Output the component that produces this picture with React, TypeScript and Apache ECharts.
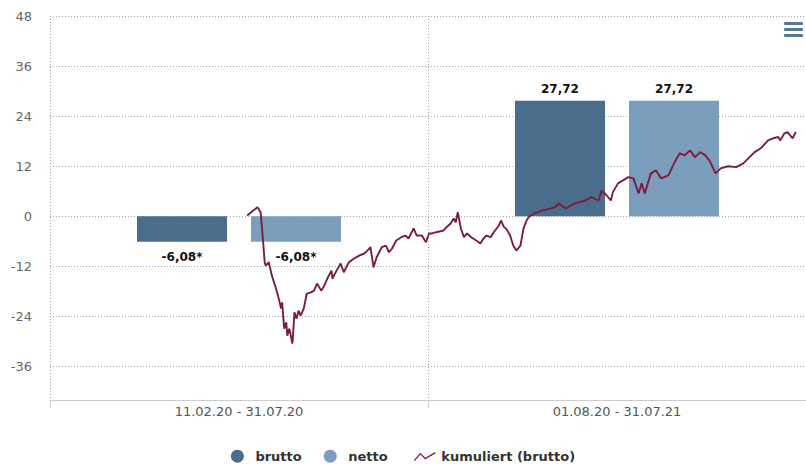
import React, { useEffect, useRef } from "react";
import * as echarts from "echarts";

// ---- data ----
const categories = ["11.02.20 - 31.07.20", "01.08.20 - 31.07.21"];
const bruttoValues = [-6.08, 27.72];
const nettoValues = [-6.08, 27.72];
const footnotes = ["*", ""];

const yMin = -44;
const yMax = 48;
const yStep = 12;

// cumulative (brutto) performance, days since line start date
const lineStartDate = "2020-02-11";
const axisStartOffsetDays = -192;
const axisEndOffsetDays = 544;
const lineDays = [
  0, 5, 10, 13, 15, 17, 18, 21, 24, 28, 30, 33, 34, 36, 38, 39, 41, 44, 46, 48,
  50, 52, 55, 58, 62, 65, 68, 72, 75, 78, 82, 83, 87, 91, 94, 99, 104, 109, 114,
  117, 120, 123, 126, 131, 135, 138, 141, 145, 150, 154, 157, 162, 165, 170, 174,
  177, 180, 184, 191, 194, 198, 201, 203, 205, 208, 211, 214, 218, 223, 227, 230,
  233, 237, 240, 245, 247, 250, 252, 256, 259, 262, 266, 269, 272, 274, 279, 288,
  300, 303, 310, 319, 329, 335, 342, 345, 350, 354, 356, 361, 371, 376, 381, 384,
  387, 393, 398, 403, 410, 417, 421, 426, 431, 436, 441, 446, 450, 456, 461, 468,
  476, 483, 489, 494, 500, 507, 512, 517, 519, 523, 526, 531, 534,
];
const lineValues = [
  0.2, 1.2, 2.2, 1.0, -4.6, -11.0, -11.8, -11.0, -14.2, -17.3, -19.0, -22.1,
  -20.6, -26.9, -25.4, -28.6, -26.9, -30.5, -23.0, -24.5, -22.6, -23.8, -22.1,
  -18.5, -18.2, -17.8, -16.1, -17.8, -16.6, -14.9, -13.0, -14.9, -13.0, -11.3,
  -13.4, -11.0, -10.1, -9.4, -8.9, -8.2, -7.4, -12.2, -9.8, -7.4, -7.0, -8.6,
  -7.7, -5.8, -5.0, -4.6, -5.3, -2.9, -4.6, -4.6, -6.2, -4.1, -4.1, -3.8, -3.4,
  -2.6, -1.7, -0.5, -1.4, 1.0, -2.9, -5.0, -4.1, -5.0, -5.8, -6.5, -5.3, -4.6,
  -5.0, -3.8, -2.2, -1.0, -2.6, -2.9, -4.6, -7.0, -8.2, -7.0, -2.9, -1.0, -0.2,
  0.7, 1.4, 2.2, 3.1, 1.9, 3.1, 3.8, 4.6, 3.8, 6.2, 5.0, 3.8, 5.8, 7.9, 9.4, 9.1,
  5.5, 7.9, 5.5, 10.3, 11.0, 9.1, 9.8, 13.4, 15.1, 14.6, 15.8, 14.2, 15.4, 14.6,
  13.4, 10.3, 11.5, 12.0, 11.8, 12.7, 14.2, 15.4, 16.3, 18.2, 18.7, 19.0, 18.2,
  19.9, 20.2, 18.7, 20.2,
];

const seriesNames = ["brutto", "netto", "kumuliert (brutto)"];

// ---- styles ----
const FONT = "DejaVu Sans";
const C_BRUTTO = "#4a6d8c";
const C_NETTO = "#7b9ebd";
const C_LINE = "#7a1d3e";
const C_GRID = "#a8a8a8";
const DAY = 86400000;

function fmt(v: number, note: string) {
  return v.toFixed(2).replace(".", ",") + note;
}

function barData(values: number[]) {
  return values.map((v, i) => ({
    value: v,
    label: {
      position: v < 0 ? "bottom" : "top",
      distance: v < 0 ? 9 : 6,
      formatter: () => fmt(v, footnotes[i]),
    },
  }));
}

export default function App() {
  const ref = useRef<HTMLDivElement>(null);
  useEffect(() => {
    document.body.style.margin = "0";
    if (!ref.current) return;
    const chart = echarts.init(ref.current, null, { renderer: "svg" });
    const start = new Date(lineStartDate + "T00:00:00Z").getTime();
    const lineData = lineDays.map((d, i) => [start + d * DAY, lineValues[i]]);
    const barLabel = {
      show: true,
      fontFamily: FONT,
      fontSize: 12,
      fontWeight: "bold",
      color: "#111",
      textBorderColor: "#fff",
      textBorderWidth: 2,
    };
    const dotted = { color: C_GRID, type: [1, 2], width: 1 };
    chart.setOption({
      animation: false,
      backgroundColor: "#fff",
      textStyle: { fontFamily: FONT },
      grid: { left: 50, right: -2, top: 16, bottom: 65, containLabel: false },
      legend: {
        left: "center",
        top: 444,
        itemWidth: 26,
        itemHeight: 13,
        itemGap: 22,
        textStyle: { fontFamily: FONT, fontSize: 13, fontWeight: "bold", color: "#333" },
        data: [
          { name: seriesNames[0], icon: "circle" },
          { name: seriesNames[1], icon: "circle" },
          {
            name: seriesNames[2],
            icon: "path://M0,0 M26,13 M4,11 L10,4 L15,9 L25,3",
            itemStyle: { color: "transparent", borderColor: C_LINE, borderWidth: 1.3 },
          },
        ],
      },
      xAxis: [
        {
          type: "category",
          data: categories,
          boundaryGap: true,
          axisLine: { show: true, onZero: false, lineStyle: { color: "#ccc", width: 1 } },
          axisTick: { show: true, length: 8, lineStyle: { color: "#ccc" } },
          axisLabel: { color: "#555", fontSize: 13, fontFamily: FONT, margin: 5 },
          splitLine: { show: true, interval: 0, lineStyle: dotted },
        },
        {
          type: "time",
          show: false,
          min: start + axisStartOffsetDays * DAY,
          max: start + axisEndOffsetDays * DAY,
        },
      ],
      yAxis: {
        type: "value",
        min: yMin,
        max: yMax,
        minInterval: yStep,
        maxInterval: yStep,
        axisLine: { show: false },
        axisTick: { show: false },
        axisLabel: {
          color: "#666",
          fontSize: 13,
          fontFamily: FONT,
          margin: 18,
          showMinLabel: false,
          formatter: (v: number) => (Math.abs(v % yStep) < 1e-6 ? String(v) : ""),
        },
        splitLine: { show: true, lineStyle: dotted },
      },
      series: [
        {
          name: seriesNames[0],
          type: "bar",
          data: barData(bruttoValues),
          barWidth: 90,
          barGap: "26.7%",
          itemStyle: { color: C_BRUTTO },
          label: barLabel,
        },
        {
          name: seriesNames[1],
          type: "bar",
          data: barData(nettoValues),
          barWidth: 90,
          barGap: "26.7%",
          itemStyle: { color: C_NETTO },
          label: barLabel,
        },
        {
          name: seriesNames[2],
          type: "line",
          xAxisIndex: 1,
          data: lineData,
          showSymbol: false,
          symbol: "none",
          lineStyle: { color: C_LINE, width: 1.9 },
          itemStyle: { color: C_LINE },
          z: 3,
        },
      ],
      graphic: [
        {
          type: "group",
          right: 3,
          top: 22,
          children: [
            { type: "rect", shape: { x: 0, y: 0, width: 19, height: 3, r: 1 }, style: { fill: "#557799" } },
            { type: "rect", shape: { x: 0, y: 6, width: 19, height: 3, r: 1 }, style: { fill: "#557799" } },
            { type: "rect", shape: { x: 0, y: 12, width: 19, height: 3, r: 1 }, style: { fill: "#557799" } },
          ],
        },
      ],
    });
    return () => chart.dispose();
  }, []);
  return (
    <div
      ref={ref}
      style={{ position: "absolute", left: 0, top: 0, width: 806, height: 465 }}
    />
  );
}
